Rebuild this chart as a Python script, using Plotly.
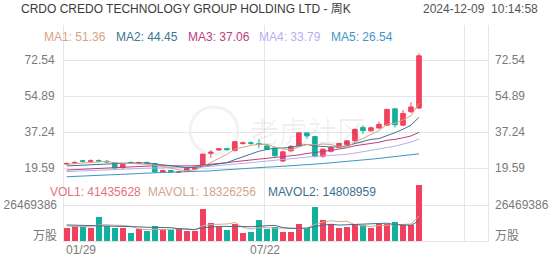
import plotly.graph_objects as go

W, H = 552, 265
L, R, T, B = 64, 488, 25, 241  # plot area in px

week_labels = ["01/29","02/05","02/12","02/19","02/26","03/04","03/11","03/18","03/25","04/01",
               "04/08","04/15","04/22","04/29","05/06","05/13","05/20","05/27","06/03","06/10",
               "06/17","06/24","07/01","07/08","07/15","07/22","07/29","08/05","08/12","08/19",
               "08/26","09/02","09/09","09/16","09/23","09/30","10/07","10/14","10/21","10/28",
               "11/04","11/11","11/18","11/25","12/02"]

open_ = [21.5,22.0,23.1,22.9,23.2,22.9,22.1,19.8,22.3,21.9,22.3,21.8,17.6,18.4,17.5,18.0,18.9,21.0,26.8,28.4,
         29.1,28.1,31.6,32.0,31.5,30.4,29.4,23.0,28.0,30.5,36.8,35.0,25.3,27.8,29.8,31.0,32.9,39.4,37.8,39.2,
         40.6,48.6,40.6,47.2,49.0]
high = [22.3,22.9,23.6,23.8,23.8,23.5,22.4,21.8,22.8,22.7,22.6,22.2,18.8,18.7,18.1,19.8,20.4,26.6,28.4,29.4,
        29.5,32.8,32.5,32.6,33.7,30.9,29.8,28.0,30.8,37.2,37.2,35.3,29.2,30.2,32.0,33.3,39.0,40.6,39.9,42.3,
        48.6,49.1,48.0,51.8,75.8]
low = [21.2,21.6,22.3,22.3,22.3,22.0,19.4,19.2,21.5,21.6,21.6,17.3,17.2,17.3,17.1,17.8,18.7,20.8,24.6,28.0,
       28.2,27.8,31.0,31.1,29.2,28.4,25.2,22.6,27.7,30.2,33.8,24.8,24.6,27.2,29.4,30.6,32.6,36.3,37.5,38.8,
       40.2,39.4,40.3,46.5,48.5]
close = [21.8,22.3,22.9,23.1,23.0,22.6,19.6,21.4,22.0,22.2,22.0,17.6,18.4,17.6,17.8,19.5,20.0,26.4,27.3,29.0,
         28.6,32.5,31.9,31.7,31.1,28.8,25.6,27.5,30.2,36.8,35.3,25.2,28.8,29.6,31.6,32.9,38.5,37.9,39.3,41.0,
         48.3,40.8,46.3,49.5,74.6]

ma1 = [21.4,21.6,21.9,22.3,22.6,22.8,22.2,21.9,21.7,21.6,21.4,21.0,20.4,19.6,18.7,18.2,18.7,20.3,22.2,24.4,
       26.3,28.8,29.9,30.7,31.2,31.2,29.8,28.9,28.6,29.8,31.1,31.0,31.3,31.1,30.1,29.6,32.3,34.1,36.0,37.9,
       41.0,41.5,43.1,45.2,51.36]
ma2 = [20.6,20.8,21.0,21.3,21.6,21.8,21.8,21.9,22.0,22.1,22.1,21.6,21.2,20.6,20.1,19.8,19.9,20.4,20.9,21.6,
       22.2,23.7,25.1,26.5,27.8,28.7,29.3,29.4,29.7,30.5,31.1,30.4,30.1,29.9,29.9,30.4,31.6,32.7,33.6,34.0,
       35.3,36.9,38.6,40.6,44.45]
ma3 = [18.6,18.8,19.0,19.3,19.5,19.8,20.0,20.2,20.4,20.6,20.7,20.7,20.7,20.6,20.6,20.6,20.7,21.0,21.4,21.8,
       22.2,22.7,23.1,23.6,24.0,24.3,24.6,24.9,25.3,26.0,26.7,27.1,27.6,28.2,28.9,29.5,30.5,31.0,31.6,32.2,
       33.2,33.6,34.4,35.3,37.06]
ma4 = [17.8,18.0,18.2,18.4,18.6,18.8,18.9,19.1,19.2,19.4,19.5,19.6,19.6,19.7,19.7,19.8,19.9,20.1,20.4,20.7,
       21.0,21.4,21.8,22.2,22.6,23.0,23.4,23.8,24.2,24.7,25.2,25.3,25.5,25.7,26.0,26.3,26.9,27.5,28.1,28.7,
       29.6,30.3,31.3,32.3,33.79]
ma5 = [15.3,15.5,15.7,15.9,16.1,16.3,16.5,16.6,16.8,17.0,17.2,17.3,17.4,17.5,17.6,17.7,17.8,18.0,18.2,18.5,
       18.8,19.1,19.4,19.6,19.8,20.0,20.2,20.4,20.7,21.0,21.3,21.5,21.8,22.1,22.4,22.7,23.1,23.5,23.9,24.3,
       24.8,25.2,25.6,26.0,26.54]

volume = [9800000,11300000,10500000,9300000,17900000,11000000,9300000,9800000,6100000,8600000,
          7600000,10800000,8600000,8400000,9500000,7600000,7100000,23300000,13200000,10500000,
          8400000,12500000,5600000,6900000,15400000,8600000,10300000,6900000,6900000,12500000,
          9300000,25200000,15400000,12300000,9300000,10500000,12300000,11500000,9800000,12300000,
          12300000,14200000,11800000,11800000,41435628]
mavol1 = [11000000,10800000,10600000,10500000,11800000,12000000,11600000,11500000,10800000,9000000,
          8300000,8600000,8300000,8800000,9000000,9000000,8200000,11200000,12100000,12300000,
          12500000,13600000,10000000,8800000,9800000,9800000,9400000,9600000,9600000,9000000,
          9200000,12200000,13900000,14900000,14300000,14500000,12000000,11200000,10700000,11300000,
          11600000,12000000,12100000,12500000,18326256]
mavol2 = [11800000,11700000,11600000,11400000,11300000,11100000,11000000,10800000,10600000,10400000,
          10100000,10100000,9900000,9800000,9000000,8600000,8400000,9800000,10500000,10700000,
          10700000,10900000,10600000,10500000,11100000,11200000,11500000,9800000,9200000,9400000,
          9500000,10800000,11700000,12300000,11700000,11900000,12100000,12500000,12800000,12800000,
          13100000,12000000,11600000,11600000,14808959]

price_ticks = [19.59, 37.24, 54.89, 72.54]
vol_tick = 26469386
date_ticks = {"01/29": 0, "07/22": 25}

UP, DOWN = "#f2405e", "#14b09e"
MA_COLORS = ["#d9a283", "#3b7594", "#bd3d7f", "#b3b0ee", "#3d96c6"]
GRID = "#e6e6e6"
TXT = "#7a7a7a"
FONT = "Arial, Liberation Sans, Noto Sans CJK SC, sans-serif"

x = list(range(len(close)))

# axis ranges derived from pixel calibration
ppu = (168 - 60) / (72.54 - 19.59)
p_hi = 72.54 + (60 - T) / ppu
p_lo = 19.59 - (B - 168) / ppu
v_hi = vol_tick * (B - T) / (B - 205)
step = (419 - 66.7) / 44
x_lo = -(66.7 - L) / step
x_hi = (R - 66.7) / step

fig = go.Figure()
vol_colors = [UP if c >= o else DOWN for o, c in zip(open_, close)]
fig.add_trace(go.Bar(x=x, y=volume, marker_color=vol_colors, marker_line_width=0,
                     width=0.75, yaxis="y2", hoverinfo="skip"))
fig.add_trace(go.Scatter(x=x, y=mavol1, mode="lines", line=dict(color="#d6a98c", width=1), yaxis="y2"))
fig.add_trace(go.Scatter(x=x, y=mavol2, mode="lines", line=dict(color="#3e6f8e", width=1), yaxis="y2"))
for ma, col in zip([ma5, ma4, ma3, ma2, ma1], MA_COLORS[::-1]):
    fig.add_trace(go.Scatter(x=x, y=ma, mode="lines", line=dict(color=col, width=1), yaxis="y"))
fig.add_trace(go.Candlestick(x=x, open=open_, high=high, low=low, close=close, yaxis="y",
                             increasing=dict(line=dict(color=UP, width=1), fillcolor=UP),
                             decreasing=dict(line=dict(color=DOWN, width=1), fillcolor=DOWN),
                             whiskerwidth=0))
fig.add_trace(go.Scatter(x=[0], y=[close[0]], mode="markers", marker=dict(opacity=0), yaxis="y3", hoverinfo="skip"))
fig.add_trace(go.Scatter(x=[0], y=[volume[0]], mode="markers", marker=dict(opacity=0), yaxis="y4", hoverinfo="skip"))

def px_x(px):
    return (px - L) / (R - L)

def px_y(py):
    return (B - py) / (B - T)

ann = []
def txt(t, xp, yp, color, anchor="left", size=12):
    ann.append(dict(text=t, x=px_x(xp), y=px_y(yp), xref="paper", yref="paper", showarrow=False,
                    xanchor=anchor, yanchor="middle", font=dict(color=color, size=size, family=FONT)))

txt("CRDO CREDO TECHNOLOGY GROUP HOLDING LTD - 周K", 19, 9, "#3a3a3a", size=12)
txt("2024-12-09  10:14:58", 540, 9, "#555555", "right", size=12)
for i, (lab, val, xp) in enumerate(zip(["MA1", "MA2", "MA3", "MA4", "MA5"],
                                      ["51.36", "44.45", "37.06", "33.79", "26.54"],
                                      [42, 114, 186, 257, 329])):
    txt(f"{lab}: {val}", xp, 37, MA_COLORS[i])
txt("VOL1: 41435628", 48, 192, "#e8707f")
txt("MAVOL1: 18326256", 146, 192, "#d2a58a")
txt("MAVOL2: 14808959", 266, 192, "#3e6f8e")
txt("万股", 59, 236, TXT, "right")
txt("万股", 493, 236, TXT, "left")
# watermark
ann.append(dict(text="老虎社区", x=px_x(308), y=px_y(130), xref="paper", yref="paper", showarrow=False,
                font=dict(size=29, color="rgba(0,0,0,0.06)", family="Noto Sans CJK SC")))
# date labels
for lab, idx in date_ticks.items():
    if idx == 0:
        ann.append(dict(text=lab, x=x_lo, y=px_y(250), xref="x", yref="paper", showarrow=False,
                        xanchor="left", yanchor="middle", font=dict(color=TXT, size=12, family=FONT)))
    else:
        ann.append(dict(text=lab, x=idx - 0.25, y=px_y(250), xref="x", yref="paper", showarrow=False,
                        xanchor="center", yanchor="middle", font=dict(color=TXT, size=12, family=FONT)))

shapes = [dict(type="circle", xref="paper", yref="paper", x0=px_x(190), x1=px_x(238),
               y0=px_y(154), y1=px_y(107), line=dict(color="rgba(0,0,0,0.05)", width=3), layer="below")]

axfont = dict(color=TXT, size=12, family=FONT)
fig.update_layout(
    width=W, height=H, margin=dict(l=L, r=W - R, t=T, b=H - B, autoexpand=False),
    paper_bgcolor="white", plot_bgcolor="white", showlegend=False,
    annotations=ann, shapes=shapes, bargap=0, boxgap=0.18,
    xaxis=dict(range=[x_lo, x_hi], tickvals=[x_lo + 0.03, 24.75, 49.72], showticklabels=False,
               showgrid=True, gridcolor=GRID, zeroline=False, showline=True, linecolor=GRID,
               mirror=False, ticks="", rangeslider=dict(visible=False), fixedrange=True,
               automargin=False),
    yaxis=dict(range=[p_lo, p_hi], tickvals=price_ticks, ticktext=[f"{v:.2f}" for v in price_ticks],
               showgrid=True, gridcolor=GRID, zeroline=False, tickfont=axfont, ticks="",
               showline=True, linecolor=GRID, mirror=True, ticklabelstandoff=6, automargin=False),
    yaxis3=dict(overlaying="y", matches="y", side="right", tickvals=price_ticks,
                ticktext=[f"{v:.2f}" for v in price_ticks], showgrid=False, zeroline=False,
                tickfont=axfont, ticks="", ticklabelstandoff=6, automargin=False),
    yaxis2=dict(overlaying="y", range=[0, v_hi], tickvals=[vol_tick], ticktext=[str(vol_tick)],
                showgrid=True, gridcolor=GRID, zeroline=False, tickfont=axfont, ticks="",
                ticklabelstandoff=6, automargin=False),
    yaxis4=dict(overlaying="y", matches="y2", side="right", tickvals=[vol_tick], ticktext=[str(vol_tick)],
                showgrid=False, zeroline=False, tickfont=axfont, ticks="", ticklabelstandoff=6,
                automargin=False),
)

fig.write_html("out.html")
